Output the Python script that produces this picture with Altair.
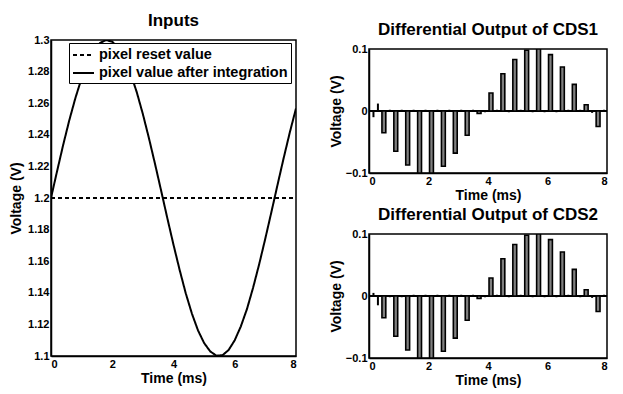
import altair as alt
import pandas as pd

# ---- Inputs panel data ----
time_ms = [round(0.2 * i, 1) for i in range(41)]
pixel_value = [1.2000, 1.2171, 1.2338, 1.2494, 1.2635, 1.2758, 1.2859, 1.2934, 1.2981, 1.3000,
               1.2989, 1.2948, 1.2880, 1.2787, 1.2670, 1.2531, 1.2377, 1.2213, 1.2043, 1.1871,
               1.1704, 1.1545, 1.1397, 1.1269, 1.1162, 1.1082, 1.1029, 1.1002, 1.1005, 1.1038,
               1.1100, 1.1188, 1.1298, 1.1433, 1.1583, 1.1745, 1.1914, 1.2086, 1.2255, 1.2417,
               1.2567]
reset_time = [0, 8]
reset_value = [1.2, 1.2]
series_names = ["pixel reset value", "pixel value after integration"]

# ---- CDS outputs (pulses) ----
pulse_t = [0.5, 0.9, 1.3, 1.7, 2.1, 2.5, 2.9, 3.3, 3.7, 4.1, 4.5, 4.9, 5.3, 5.7, 6.1, 6.5, 6.9, 7.3, 7.7]
cds1_pulse = [-0.035, -0.065, -0.087, -0.100, -0.100, -0.089, -0.068, -0.039, -0.004,
              0.029, 0.060, 0.083, 0.098, 0.100, 0.091, 0.071, 0.043, 0.010, -0.025]
cds2_pulse = [-0.035, -0.065, -0.087, -0.100, -0.100, -0.089, -0.068, -0.039, -0.004,
              0.029, 0.060, 0.083, 0.098, 0.100, 0.091, 0.071, 0.043, 0.010, -0.025]
glitch_t = [0.15, 0.3, 0.7, 1.1, 1.5, 1.9, 2.3, 2.7, 3.1, 3.5, 3.9, 4.3, 4.7, 5.1, 5.5, 5.9, 6.3, 6.7, 7.1, 7.5, 7.9]
cds1_glitch = [-0.010, 0.012, 0.002, 0.002, 0.002, 0.002, 0.002, 0.002, 0.002, 0.002, -0.002,
               0.002, -0.002, 0.002, -0.002, -0.002, -0.002, 0.002, 0.002, -0.003, 0.002]
cds2_glitch = [0.005, -0.015, -0.002, -0.002, 0.002, 0.002, 0.002, 0.002, 0.002, 0.002, -0.002,
               0.002, -0.002, 0.002, -0.002, -0.002, -0.002, 0.002, -0.002, -0.003, 0.002]

HALF = 0.065
FONT = "Liberation Sans"
TOFF = 4
TFS = 17

sine_df = pd.DataFrame({"t": time_ms, "v": pixel_value, "series": series_names[1]})
reset_df = pd.DataFrame({"t": reset_time, "v": reset_value, "series": series_names[0]})
lines_df = pd.concat([reset_df, sine_df], ignore_index=True)

xs = alt.Scale(domain=[0, 8], nice=False)
x_axis = alt.Axis(values=[0, 2, 4, 6, 8], titlePadding=2)


def spacer(h):
    return alt.Chart(pd.DataFrame({"a": [0]})).mark_rule(opacity=0).encode(
        x=alt.value(0), y=alt.value(0), y2=alt.value(h)
    ).properties(width=1, height=h, view=alt.ViewConfig(stroke="transparent"))


def ttl(text):
    return alt.TitleParams(text, offset=TOFF, fontSize=TFS, font=FONT, fontWeight="bold",
                           color="black")


left_plot = alt.Chart(lines_df).mark_line(strokeWidth=2, color="black", clip=True).encode(
    x=alt.X("t:Q", scale=xs, title="Time (ms)", axis=x_axis),
    y=alt.Y("v:Q", scale=alt.Scale(domain=[1.1, 1.3], nice=False), title="Voltage (V)",
            axis=alt.Axis(values=[1.1, 1.12, 1.14, 1.16, 1.18, 1.2, 1.22, 1.24, 1.26, 1.28, 1.3],
                          format=".2~f", titlePadding=4)),
    strokeDash=alt.StrokeDash("series:N",
        scale=alt.Scale(domain=series_names, range=[[4, 3], [1, 0]]),
        legend=alt.Legend(title=None, orient="none", legendX=18, legendY=3,
                          strokeColor="black", fillColor="white", padding=3,
                          labelFont=FONT, labelFontSize=14.5, labelFontWeight="bold",
                          labelColor="black", symbolType="M-1,0L1.625,0",
                          symbolStrokeColor="black", symbolStrokeWidth=2, symbolSize=256,
                          rowPadding=2, labelOffset=9, labelLimit=400)),
    order=alt.Order("t:Q"),
    detail="series:N",
).properties(width=245, height=316, title=ttl("Inputs"))


def cds_panel(pulses, glitches, title, h):
    pdf = pd.DataFrame({"t0": [t - HALF for t in pulse_t], "t1": [t + HALF for t in pulse_t],
                        "v": pulses})
    gdf = pd.DataFrame({"t": glitch_t, "v": glitches})
    base_x = alt.X("t0:Q", scale=xs, title="Time (ms)", axis=x_axis)
    ysc = alt.Scale(domain=[-0.1, 0.1], nice=False)
    yax = alt.Axis(values=[-0.1, -0.05, 0, 0.05, 0.1], format=".2~f", titlePadding=2)
    zero = alt.Chart(pd.DataFrame({"t": [0, 8]})).mark_rule(color="black", strokeWidth=2).encode(
        x=alt.X("min(t):Q", scale=xs), x2="max(t):Q", y=alt.datum(0))
    bars = alt.Chart(pdf).mark_bar(fill="#808080", stroke="black", strokeWidth=1.6, clip=True).encode(
        x=base_x, x2="t1:Q",
        y=alt.Y("v:Q", scale=ysc, title="Voltage (V)", axis=yax), y2=alt.datum(0))
    gl = alt.Chart(gdf).mark_rule(color="black", strokeWidth=2).encode(
        x=alt.X("t:Q", scale=xs), y=alt.Y("v:Q", scale=ysc), y2=alt.datum(0))
    return alt.layer(zero, bars, gl).properties(width=238, height=h, title=ttl(title))


top = cds_panel(cds1_pulse, cds1_glitch, "Differential Output of CDS1", 124)
bottom = cds_panel(cds2_pulse, cds2_glitch, "Differential Output of CDS2", 124)

left_col = alt.vconcat(spacer(1), left_plot, spacing=0).resolve_legend(strokeDash="independent")
right_col = alt.vconcat(spacer(10), alt.vconcat(top, bottom, spacing=2), spacing=0)

chart = alt.hconcat(left_col, right_col, spacing=30).resolve_legend(
    strokeDash="independent"
).properties(padding=0, background="white").configure_view(
    stroke="black", strokeWidth=1.5
).configure_axis(
    labelFont=FONT, labelFontSize=11, labelFontWeight="bold", labelColor="black",
    titleFont=FONT, titleFontSize=14, titleFontWeight="bold", titleColor="black",
    domainColor="black", domainWidth=1.5, tickColor="black", grid=False, tickSize=0,
    labelPadding=2, titlePadding=0
)

chart.save("out.html", embed_options={"renderer": "svg", "actions": False})
